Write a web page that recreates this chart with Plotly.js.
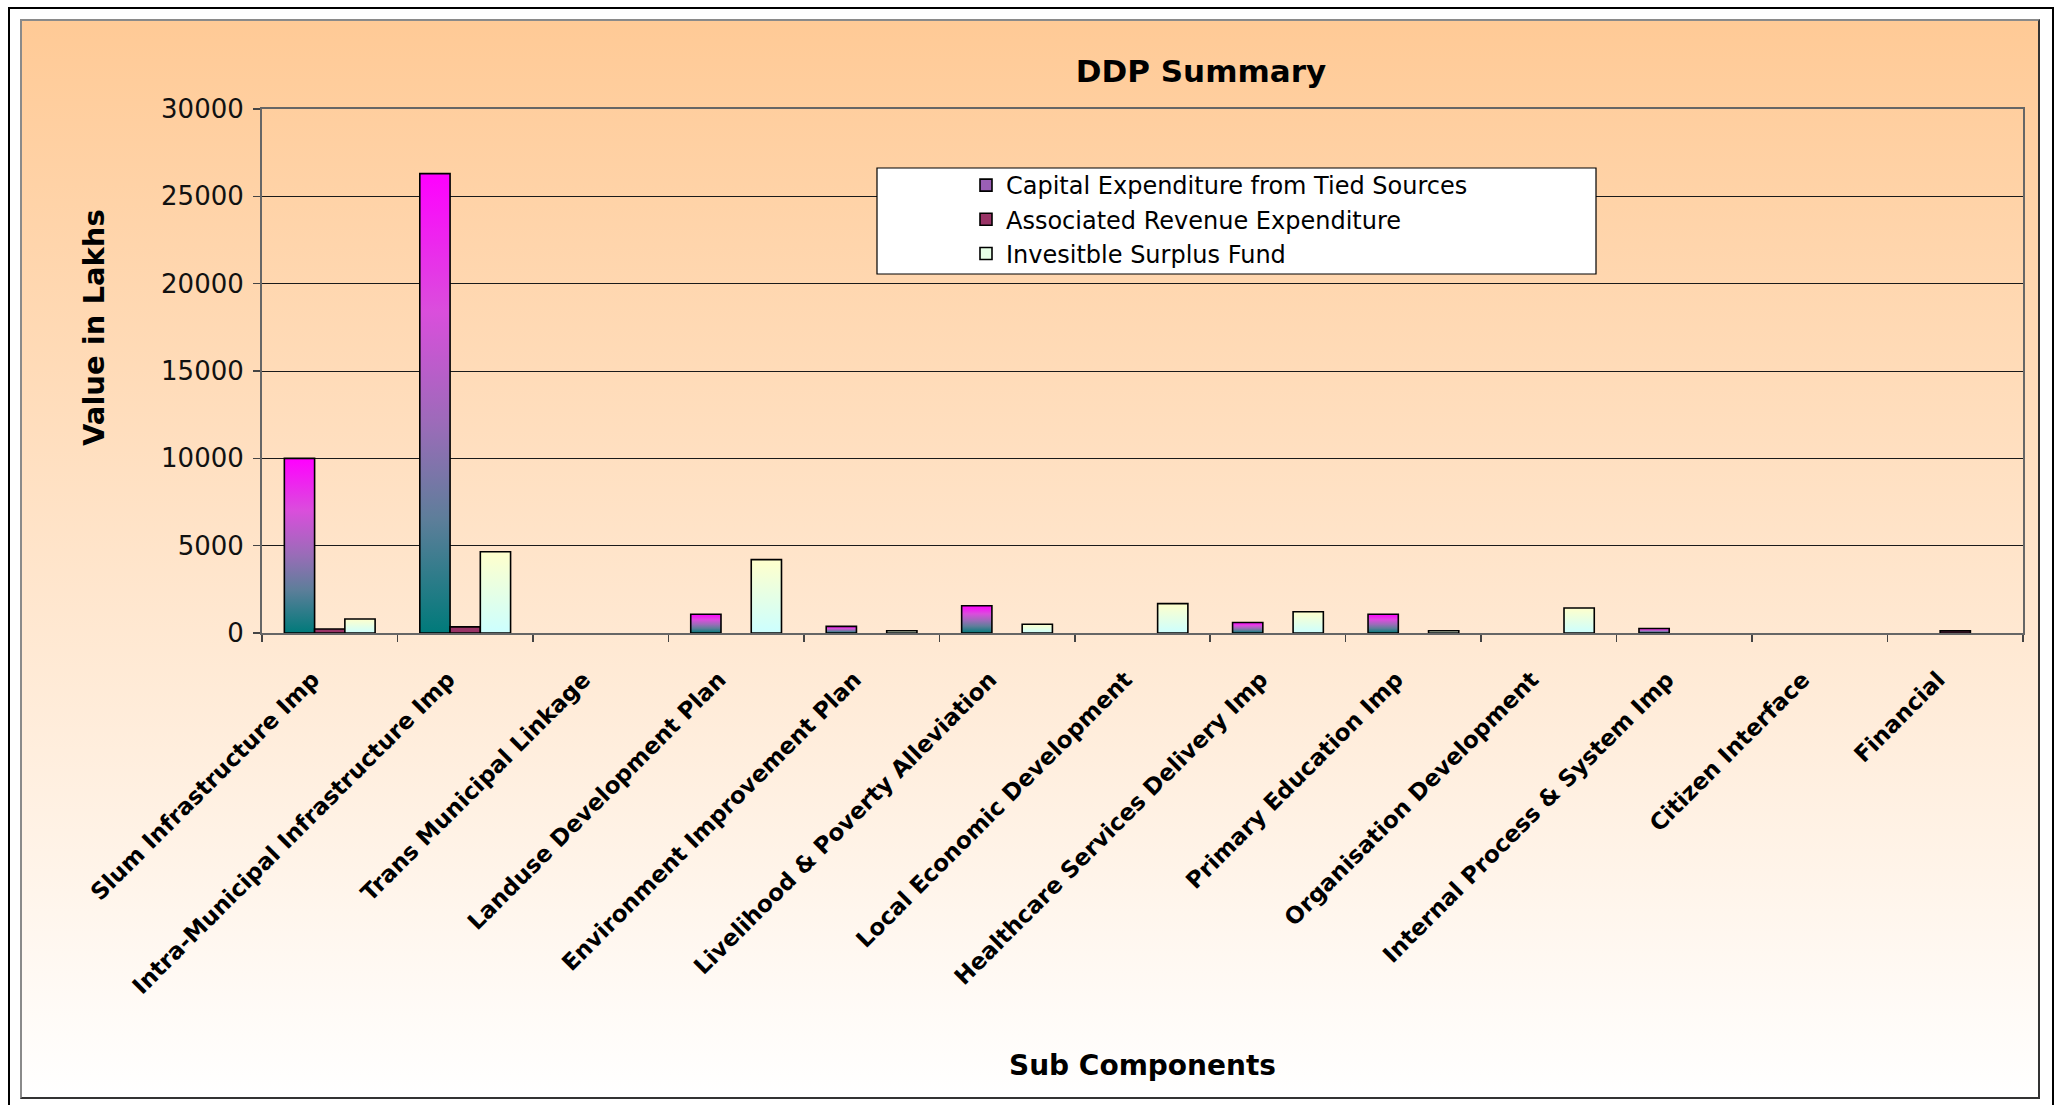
<!DOCTYPE html>
<html>
<head>
<meta charset="utf-8">
<script src="https://cdn.plot.ly/plotly-3.0.1.min.js"></script>
<style>
  html, body { margin:0; padding:0; width:2056px; height:1105px; overflow:hidden; background:#ffffff; }
  #frameOuter { position:absolute; left:8px; top:7px; width:2046px; height:1115px; box-sizing:border-box; border:2px solid #000; }
  #frameInner { position:absolute; left:20px; top:19px; width:2020px; height:1080px; box-sizing:border-box;
                border:2px solid; border-color:#8a8a8a #333 #333 #8a8a8a;
                background:linear-gradient(to bottom, #FFCA96 0%, #FFFFFF 100%); }
  #chart { position:absolute; left:0; top:0; width:2056px; height:1105px; }
</style>
</head>
<body>
<div id="frameOuter"></div>
<div id="frameInner"></div>
<div id="chart"></div>
<script>
// ---- data ----
const categories = [
  "Slum Infrastructure Imp",
  "Intra-Municipal Infrastructure Imp",
  "Trans Municipal Linkage",
  "Landuse Development Plan",
  "Environment Improvement Plan",
  "Livelihood & Poverty Alleviation",
  "Local Economic Development",
  "Healthcare Services Delivery Imp",
  "Primary Education Imp",
  "Organisation Development",
  "Internal Process & System Imp",
  "Citizen Interface",
  "Financial"
];
const seriesNames = [
  "Capital Expenditure from Tied Sources",
  "Associated Revenue Expenditure",
  "Invesitble Surplus Fund"
];
const capitalExp = [10000, 26300, 0, 1070, 380, 1560, 0, 600, 1070, 0, 260, 0, 0];
const revenueExp = [230, 350, 0, 0, 0, 0, 0, 0, 0, 0, 0, 0, 120];
const surplusFund = [800, 4650, 0, 4200, 130, 500, 1680, 1220, 130, 1430, 0, 0, 0];
const yTicks = [0, 5000, 10000, 15000, 20000, 25000, 30000];

// ---- figure geometry ----
const W = 2056, H = 1105;
const M = {l:262, r:33, t:109, b:472};
const PW = W - M.l - M.r, PH = H - M.t - M.b;
const px = x => (x - M.l) / PW;       // figure px -> paper x
const py = y => 1 - (y - M.t) / PH;   // figure px -> paper y
const blankZero = arr => arr.map(v => (v === 0 ? null : v));  // zero bars are not drawn

const outline = {color:'#000', width:1.6};
const traces = [
  {type:'bar', name:seriesNames[0], x:categories, y:blankZero(capitalExp), marker:{color:'#9a5fb5', line:outline}},
  {type:'bar', name:seriesNames[1], x:categories, y:blankZero(revenueExp), marker:{color:'#993366', line:outline}},
  {type:'bar', name:seriesNames[2], x:categories, y:blankZero(surplusFund), marker:{color:'#e6ffe6', line:outline}}
];

const layout = {
  width:W, height:H,
  margin:{l:M.l, r:M.r, t:M.t, b:M.b, pad:0},
  paper_bgcolor:'rgba(0,0,0,0)',
  plot_bgcolor:'rgba(0,0,0,0)',
  barmode:'group', bargap:0.33, bargroupgap:0,
  showlegend:true,
  hovermode:false,
  title:{
    text:'DDP Summary',
    font:{family:'DejaVu Sans', size:31, color:'#000', weight:'bold'},
    x:1201/W, xref:'container', xanchor:'center',
    y:1 - 71/H, yref:'container', yanchor:'middle'
  },
  xaxis:{
    type:'category',
    tickangle:-45,
    tickfont:{family:'DejaVu Sans', size:23, color:'#000', weight:'bold'},
    ticks:'outside', tickson:'boundaries', ticklen:7, tickcolor:'#444', tickwidth:1.5,
    ticklabelstandoff:22,
    ticklabelshift:-17,
    showline:true, linecolor:'#666', linewidth:2, mirror:true,
    showgrid:false, zeroline:false,
    automargin:false,
    title:{text:'Sub Components', font:{family:'DejaVu Sans', size:28, color:'#000', weight:'bold'}, standoff:57}
  },
  yaxis:{
    range:[0,30000],
    tickvals:yTicks,
    ticktext:yTicks.map(String),
    tickfont:{family:'DejaVu Sans', size:26, color:'#111'},
    ticks:'outside', ticklen:7, tickcolor:'#444', tickwidth:1.5,
    ticklabelstandoff:4,
    showline:true, linecolor:'#666', linewidth:2, mirror:true,
    showgrid:true, gridcolor:'#1a1a1a', gridwidth:1,
    zeroline:false,
    automargin:false
  },
  annotations:[{
    text:'Value in Lakhs', textangle:-90,
    xref:'paper', yref:'paper', x:px(94), y:py(328), xanchor:'center', yanchor:'middle',
    showarrow:false,
    font:{family:'DejaVu Sans', size:29, color:'#000', weight:'bold'}
  }],
  legend:{
    x:px(966), xanchor:'left',
    y:py(163), yanchor:'top',
    bgcolor:'rgba(0,0,0,0)', borderwidth:0,
    font:{family:'DejaVu Sans', size:24, color:'#000'},
    traceorder:'normal'
  },
  shapes:[{
    type:'rect', xref:'paper', yref:'paper', layer:'above',
    x0:px(877), x1:px(1596), y0:py(274), y1:py(168),
    fillcolor:'#ffffff', line:{color:'#000', width:1.2}
  }]
};

const gd = document.getElementById('chart');
Plotly.newPlot(gd, traces, layout, {staticPlot:true, displayModeBar:false}).then(applyGradients);

function applyGradients(){
  const NS = 'http://www.w3.org/2000/svg';
  const svg = gd.querySelector('svg.main-svg');
  let defs = svg.querySelector('defs');
  if(!defs){ defs = document.createElementNS(NS,'defs'); svg.insertBefore(defs, svg.firstChild); }
  function grad(id, stops){
    const g = document.createElementNS(NS,'linearGradient');
    g.setAttribute('id', id);
    g.setAttribute('x1','0'); g.setAttribute('y1','0');
    g.setAttribute('x2','0'); g.setAttribute('y2','1');
    stops.forEach(([o,c])=>{
      const s = document.createElementNS(NS,'stop');
      s.setAttribute('offset', o); s.setAttribute('stop-color', c);
      g.appendChild(s);
    });
    defs.appendChild(g);
  }
  grad('gCap', [[0,'#FF00FF'],[0.3,'#DA4EDC'],[0.55,'#9A6CB8'],[0.75,'#5E7E9A'],[1,'#007A7A']]);
  grad('gSur', [[0,'#FFFFCC'],[1,'#CCFFFF']]);
  const fills = ['url(#gCap)', null, 'url(#gSur)'];
  gd.querySelectorAll('.barlayer .trace').forEach((tr,i)=>{
    if(fills[i]) tr.querySelectorAll('path').forEach(p=>{ p.style.fill = fills[i]; });
  });
  gd.querySelectorAll('.legend .traces').forEach((tr,i)=>{
    if(fills[i]) tr.querySelectorAll('path.legendbar').forEach(p=>{ p.style.fill = fills[i]; });
  });
}
</script>
</body>
</html>
